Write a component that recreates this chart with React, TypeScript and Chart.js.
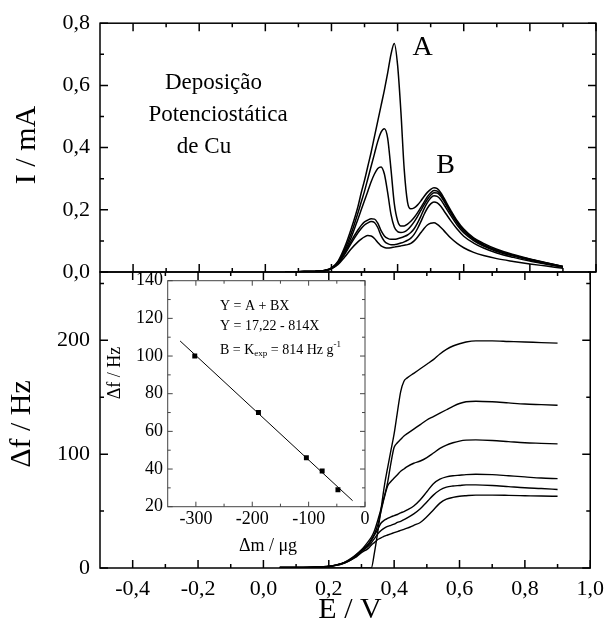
import { useEffect, useRef } from 'react';
import { Chart, registerables } from 'chart.js';

Chart.register(...registerables);

const SERIF = '"Liberation Serif", "Times New Roman", Times, serif';

// ---------- top panel: current (I / mA) vs E / V ----------
const E_TOP = [0.06, 0.10, 0.15, 0.18, 0.20, 0.22, 0.24, 0.26, 0.28, 0.29, 0.30, 0.31, 0.32, 0.33, 0.34, 0.35, 0.36, 0.37, 0.38, 0.39, 0.40, 0.41, 0.42, 0.43, 0.44, 0.45, 0.46, 0.47, 0.48, 0.49, 0.50, 0.51, 0.52, 0.53, 0.54, 0.56, 0.58, 0.60, 0.63, 0.66, 0.70, 0.75, 0.80, 0.85, 0.90];
const I_1 = [0, 0.001, 0.002, 0.005, 0.013, 0.035, 0.08, 0.14, 0.21, 0.255, 0.295, 0.34, 0.385, 0.435, 0.485, 0.535, 0.585, 0.64, 0.70, 0.735, 0.665, 0.515, 0.33, 0.225, 0.203, 0.206, 0.215, 0.228, 0.243, 0.256, 0.266, 0.271, 0.268, 0.256, 0.238, 0.2, 0.165, 0.138, 0.11, 0.092, 0.073, 0.056, 0.042, 0.03, 0.018];
const I_2 = [0, 0.001, 0.002, 0.005, 0.012, 0.032, 0.072, 0.125, 0.19, 0.225, 0.26, 0.30, 0.34, 0.38, 0.42, 0.45, 0.461, 0.43, 0.33, 0.22, 0.165, 0.148, 0.148, 0.154, 0.163, 0.175, 0.19, 0.207, 0.225, 0.242, 0.255, 0.262, 0.26, 0.25, 0.233, 0.195, 0.161, 0.134, 0.107, 0.088, 0.07, 0.054, 0.041, 0.029, 0.018];
const I_3 = [0, 0.001, 0.002, 0.005, 0.012, 0.03, 0.066, 0.112, 0.17, 0.2, 0.23, 0.26, 0.29, 0.315, 0.333, 0.338, 0.315, 0.255, 0.185, 0.145, 0.13, 0.127, 0.129, 0.136, 0.147, 0.161, 0.178, 0.197, 0.216, 0.233, 0.247, 0.255, 0.254, 0.244, 0.228, 0.191, 0.158, 0.131, 0.105, 0.086, 0.068, 0.053, 0.04, 0.028, 0.017];
const I_4 = [0, 0.001, 0.002, 0.005, 0.011, 0.028, 0.06, 0.1, 0.135, 0.15, 0.161, 0.167, 0.171, 0.17, 0.157, 0.133, 0.116, 0.108, 0.105, 0.105, 0.107, 0.11, 0.114, 0.119, 0.127, 0.139, 0.157, 0.179, 0.203, 0.223, 0.238, 0.245, 0.243, 0.233, 0.217, 0.183, 0.151, 0.126, 0.101, 0.083, 0.066, 0.051, 0.038, 0.027, 0.016];
const I_5 = [0, 0.001, 0.002, 0.005, 0.011, 0.027, 0.057, 0.093, 0.126, 0.14, 0.151, 0.158, 0.162, 0.159, 0.143, 0.117, 0.099, 0.091, 0.088, 0.088, 0.09, 0.093, 0.097, 0.102, 0.109, 0.121, 0.139, 0.161, 0.185, 0.205, 0.219, 0.225, 0.222, 0.212, 0.197, 0.166, 0.138, 0.115, 0.093, 0.077, 0.061, 0.047, 0.035, 0.025, 0.015];
const I_6 = [0, 0.001, 0.002, 0.004, 0.01, 0.024, 0.048, 0.075, 0.097, 0.106, 0.113, 0.117, 0.116, 0.108, 0.095, 0.084, 0.079, 0.077, 0.078, 0.08, 0.082, 0.084, 0.086, 0.088, 0.092, 0.1, 0.112, 0.126, 0.14, 0.151, 0.157, 0.158, 0.153, 0.144, 0.133, 0.11, 0.092, 0.078, 0.063, 0.053, 0.043, 0.034, 0.026, 0.019, 0.012];

// ---------- bottom panel: frequency change (Δf / Hz) vs E / V ----------
const E_BOT = [0.05, 0.10, 0.15, 0.20, 0.22, 0.24, 0.26, 0.28, 0.30, 0.32, 0.33, 0.34, 0.35, 0.36, 0.37, 0.38, 0.39, 0.40, 0.41, 0.42, 0.43, 0.44, 0.46, 0.48, 0.50, 0.52, 0.54, 0.56, 0.58, 0.60, 0.62, 0.65, 0.70, 0.75, 0.80, 0.85, 0.90];
const DF_1 = [0, 0, 0, 0, 0, 0, 0, 0, 0, 0, 0, 14, 32, 52, 72, 88, 103, 118, 137, 155, 164, 167, 171, 175, 179, 183, 188, 192, 195, 197, 198.5, 199.5, 199.5, 199, 198.5, 198, 197.5];
const DF_2 = [0.5, 0.5, 0.8, 1.5, 2.5, 4, 7, 11, 16, 23, 27, 33, 42, 52, 63, 75, 92, 106, 110, 113, 116, 118, 122, 126, 130, 133, 136, 139, 142, 144.5, 146, 146.5, 146, 145, 144, 143.5, 143];
const DF_3 = [0.5, 0.5, 0.8, 1.5, 2.5, 4, 6.5, 10.5, 15.5, 21, 25, 30, 38, 50, 62, 72, 76, 79, 82, 85, 87, 89, 92, 94, 97, 101, 105, 108, 110, 111.5, 112.3, 112.5, 112, 111, 110, 109.5, 109];
const DF_4 = [0.5, 0.5, 0.8, 1.4, 2.3, 3.8, 6.2, 10, 15, 20, 24, 29, 34, 39.5, 42, 43.5, 45, 46, 47, 48.5, 49.5, 51, 54.5, 60, 67, 74, 78, 80, 81, 81.5, 82, 82.3, 82, 81, 80, 79, 78.5];
const DF_5 = [0.5, 0.5, 0.8, 1.4, 2.3, 3.7, 6, 9.5, 14.5, 19, 22, 26, 30, 33, 35, 36.5, 37.5, 38.5, 40, 41, 42.5, 44, 47.5, 52, 58, 64, 68.5, 71, 72, 72.5, 73, 73, 72.5, 71.5, 70.5, 69.8, 69];
const DF_6 = [0.5, 0.5, 0.8, 1.3, 2.2, 3.5, 5.8, 9, 13.5, 17, 20, 22.5, 25, 26.5, 28, 29, 30, 31, 32, 33, 34, 35, 37.5, 40, 45, 51, 57, 60.5, 62, 63, 63.5, 64, 64, 63.8, 63.5, 63.2, 63];

// ---------- inset: Δf vs Δm ----------
const INSET_DM = [-302, -189, -104, -76, -48];
const INSET_DF = [100, 70, 46, 39, 29];
const FIT_DM = [-328, -22];
const FIT_DF = [108, 23.2];

// ---------- ticks ----------
const X_TICKS = [-0.4, -0.2, 0.0, 0.2, 0.4, 0.6, 0.8, 1.0];
const X_MINOR = [-0.3, -0.1, 0.1, 0.3, 0.5, 0.7, 0.9];
const I_TICKS = [0, 0.2, 0.4, 0.6, 0.8];
const I_MINOR = [0.1, 0.3, 0.5, 0.7];
const DF_TICKS = [0, 100, 200];
const DF_MINOR = [50, 150, 250];
const INSET_X_TICKS = [-300, -200, -100, 0];
const INSET_X_MINOR = [-250, -150, -50];
const INSET_Y_TICKS = [20, 40, 60, 80, 100, 120, 140];
const INSET_Y_MINOR = [30, 50, 70, 90, 110, 130];

const comma = (v: number, d: number) => (Math.abs(v) < 1e-9 ? (0).toFixed(d) : v.toFixed(d)).replace('.', ',');

type Txt = { t: string; x: number; y: number; size: number; rot?: boolean; align?: CanvasTextAlign };

function textPlugin(id: string, items: Txt[], extra?: (ctx: CanvasRenderingContext2D) => void) {
  return {
    id,
    afterDraw(chart: any) {
      const ctx: CanvasRenderingContext2D = chart.ctx;
      ctx.save();
      ctx.fillStyle = '#000';
      ctx.textBaseline = 'middle';
      for (const it of items) {
        ctx.font = `${it.size}px ${SERIF}`;
        ctx.textAlign = it.align ?? 'center';
        if (it.rot) {
          ctx.save();
          ctx.translate(it.x, it.y);
          ctx.rotate(-Math.PI / 2);
          ctx.fillText(it.t, 0, 0);
          ctx.restore();
        } else {
          ctx.fillText(it.t, it.x, it.y);
        }
      }
      if (extra) extra(ctx);
      ctx.restore();
    },
  };
}

type FrameCfg = { xMaj: number[]; xMin: number[]; yMaj: number[]; yMin: number[]; maj: number; min: number; lw: number; color: string };

function framePlugin(c: FrameCfg) {
  return {
    id: 'frame',
    afterDatasetsDraw(chart: any) {
      const ctx: CanvasRenderingContext2D = chart.ctx;
      const a = chart.chartArea;
      const xs = chart.scales.x;
      const ys = chart.scales.y;
      ctx.save();
      ctx.strokeStyle = c.color;
      ctx.lineWidth = c.lw;
      ctx.beginPath();
      const vt = (v: number, len: number) => {
        const p = xs.getPixelForValue(v);
        ctx.moveTo(p, a.bottom);
        ctx.lineTo(p, a.bottom - len);
        ctx.moveTo(p, a.top);
        ctx.lineTo(p, a.top + len);
      };
      const ht = (v: number, len: number) => {
        const p = ys.getPixelForValue(v);
        ctx.moveTo(a.left, p);
        ctx.lineTo(a.left + len, p);
        ctx.moveTo(a.right, p);
        ctx.lineTo(a.right - len, p);
      };
      c.xMaj.forEach((v) => vt(v, c.maj));
      c.xMin.forEach((v) => vt(v, c.min));
      c.yMaj.forEach((v) => ht(v, c.maj));
      c.yMin.forEach((v) => ht(v, c.min));
      ctx.stroke();
      ctx.strokeRect(a.left, a.top, a.right - a.left, a.bottom - a.top);
      ctx.restore();
    },
  };
}

const line = (xs: number[], ys: number[], w: number) => ({
  data: xs.map((x, i) => ({ x, y: ys[i] })),
  borderColor: '#000',
  borderWidth: w,
  pointRadius: 0,
  fill: false,
  cubicInterpolationMode: 'monotone' as const,
});

const fixW = (w: number) => (s: any) => { s.width = w; };
const fixH = (h: number) => (s: any) => { s.height = h; };
const setTicks = (vals: number[]) => (s: any) => { s.ticks = vals.map((v) => ({ value: v })); };

const hiddenAxis = (min: number, max: number) => ({
  type: 'linear' as const,
  min,
  max,
  ticks: { display: false },
  grid: { display: false, drawTicks: false },
  border: { display: false },
  afterFit: fixH(0),
});

const baseOpts = {
  responsive: false,
  animation: false as const,
  events: [] as any[],
  plugins: { legend: { display: false }, tooltip: { enabled: false } },
};

export default function App() {
  const topRef = useRef<HTMLCanvasElement>(null);
  const botRef = useRef<HTMLCanvasElement>(null);
  const insRef = useRef<HTMLCanvasElement>(null);

  useEffect(() => {
    const charts: Chart[] = [];

    // bottom panel
    charts.push(
      new Chart(botRef.current!, {
        type: 'line',
        data: { datasets: [DF_1, DF_2, DF_3, DF_4, DF_5, DF_6].map((d) => line(E_BOT, d, 1.4)) as any },
        options: {
          ...baseOpts,
          layout: { padding: { left: 0, right: 16, top: 272, bottom: 7 } },
          scales: {
            x: {
              type: 'linear',
              min: -0.5,
              max: 1.0,
              afterBuildTicks: setTicks(X_TICKS),
              ticks: { font: { family: SERIF, size: 22 }, color: '#000', padding: 8, autoSkip: false, maxRotation: 0, callback: (v: any) => comma(Number(v), 1) },
              grid: { display: false, drawTicks: false },
              border: { display: false },
              afterFit: fixH(50),
            },
            y: {
              type: 'linear',
              min: 0,
              max: 260,
              afterBuildTicks: setTicks(DF_TICKS),
              ticks: { font: { family: SERIF, size: 22 }, color: '#000', padding: 10, callback: (v: any) => String(v) },
              grid: { display: false, drawTicks: false },
              border: { display: false },
              afterFit: fixW(100),
            },
          },
        } as any,
        plugins: [
          framePlugin({ xMaj: X_TICKS, xMin: X_MINOR, yMaj: DF_TICKS, yMin: DF_MINOR, maj: 8, min: 4, lw: 1.5, color: '#000' }),
          textPlugin('botText', [
            { t: 'Δf / Hz', x: 22, y: 424, size: 30, rot: true },
            { t: 'E / V', x: 350, y: 610, size: 30 },
          ]),
        ] as any,
      })
    );

    // top panel
    charts.push(
      new Chart(topRef.current!, {
        type: 'line',
        data: { datasets: [I_1, I_2, I_3, I_4, I_5, I_6].map((d) => line(E_TOP, d, 1.5)) as any },
        options: {
          ...baseOpts,
          layout: { padding: { left: 0, right: 16, top: 19, bottom: 353 } },
          scales: {
            x: hiddenAxis(-0.5, 1.0),
            y: {
              type: 'linear',
              min: 0,
              max: 0.8,
              afterBuildTicks: setTicks(I_TICKS),
              ticks: { font: { family: SERIF, size: 22 }, color: '#000', padding: 10, callback: (v: any) => comma(Number(v), 1) },
              grid: { display: false, drawTicks: false },
              border: { display: false },
              afterFit: fixW(100),
            },
          },
        } as any,
        plugins: [
          framePlugin({ xMaj: X_TICKS, xMin: X_MINOR, yMaj: I_TICKS, yMin: I_MINOR, maj: 8, min: 4, lw: 1.5, color: '#000' }),
          textPlugin('topText', [
            { t: 'I / mA', x: 27, y: 145, size: 30, rot: true },
            { t: 'Deposição', x: 213.5, y: 83, size: 23 },
            { t: 'Potenciostática', x: 218, y: 115, size: 23 },
            { t: 'de Cu', x: 204, y: 147, size: 23 },
            { t: 'A', x: 422.5, y: 48, size: 28 },
            { t: 'B', x: 445.5, y: 166, size: 28 },
          ]),
        ] as any,
      })
    );

    // inset
    const drawK = (ctx: CanvasRenderingContext2D) => {
      let x = 220;
      const y = 350;
      ctx.textAlign = 'left';
      ctx.textBaseline = 'middle';
      ctx.font = `14px ${SERIF}`;
      ctx.fillText('B = K', x, y);
      x += ctx.measureText('B = K').width;
      ctx.font = `9px ${SERIF}`;
      ctx.fillText('exp', x, y + 4);
      x += ctx.measureText('exp').width;
      ctx.font = `14px ${SERIF}`;
      ctx.fillText(' = 814 Hz g', x, y);
      x += ctx.measureText(' = 814 Hz g').width;
      ctx.font = `9px ${SERIF}`;
      ctx.fillText('-1', x, y - 5);
    };

    charts.push(
      new Chart(insRef.current!, {
        type: 'line',
        data: {
          datasets: [
            {
              data: FIT_DM.map((x, i) => ({ x, y: FIT_DF[i] })),
              borderColor: '#000',
              borderWidth: 1,
              pointRadius: 0,
              fill: false,
            },
            {
              data: INSET_DM.map((x, i) => ({ x, y: INSET_DF[i] })),
              showLine: false,
              pointStyle: 'rect',
              pointRadius: 3.5,
              backgroundColor: '#000',
              borderColor: '#000',
              borderWidth: 0,
            },
          ] as any,
        },
        options: {
          ...baseOpts,
          layout: { padding: { left: 0, right: 247, top: 280.7, bottom: 78.3 } },
          scales: {
            x: {
              type: 'linear',
              min: -350,
              max: 0,
              afterBuildTicks: setTicks(INSET_X_TICKS),
              ticks: { font: { family: SERIF, size: 18 }, color: '#000', padding: 2, autoSkip: false, maxRotation: 0, callback: (v: any) => String(v) },
              grid: { display: false, drawTicks: false },
              border: { display: false },
              afterFit: fixH(40),
            },
            y: {
              type: 'linear',
              min: 20,
              max: 140,
              afterBuildTicks: setTicks(INSET_Y_TICKS),
              ticks: { font: { family: SERIF, size: 18 }, color: '#000', padding: 4.7, callback: (v: any) => String(v) },
              grid: { display: false, drawTicks: false },
              border: { display: false },
              afterFit: fixW(167.7),
            },
          },
        } as any,
        plugins: [
          framePlugin({ xMaj: INSET_X_TICKS, xMin: INSET_X_MINOR, yMaj: INSET_Y_TICKS, yMin: INSET_Y_MINOR, maj: 5, min: 3, lw: 1, color: '#444' }),
          textPlugin(
            'insText',
            [
              { t: 'Δf / Hz', x: 115, y: 373, size: 18, rot: true },
              { t: 'Δm / μg', x: 268, y: 546, size: 18 },
              { t: 'Y = A + BX', x: 220, y: 306.7, size: 14, align: 'left' },
              { t: 'Y = 17,22 - 814X', x: 220, y: 326, size: 14, align: 'left' },
            ],
            drawK
          ),
        ] as any,
      })
    );

    return () => charts.forEach((c) => c.destroy());
  }, []);

  const cv: React.CSSProperties = { position: 'absolute', left: 0, top: 0 };
  return (
    <div style={{ position: 'absolute', left: 0, top: 0, width: 612, height: 625, background: '#fff' }}>
      <canvas ref={botRef} width={612} height={625} style={cv} />
      <canvas ref={topRef} width={612} height={625} style={cv} />
      <canvas ref={insRef} width={612} height={625} style={cv} />
    </div>
  );
}
